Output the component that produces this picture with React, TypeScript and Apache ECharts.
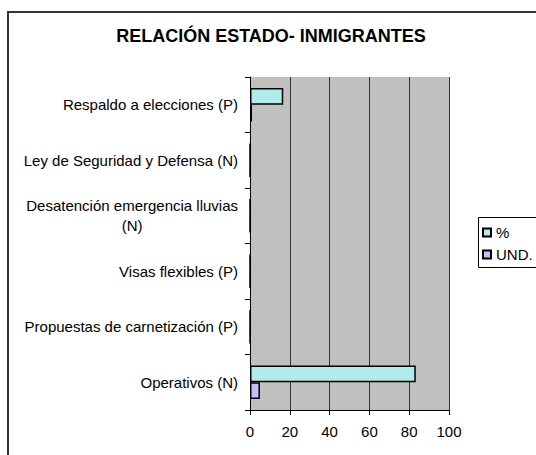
import React, { useEffect, useRef } from 'react';
import * as echarts from 'echarts';

const categories = [
  'Respaldo a elecciones (P)',
  'Ley de Seguridad y Defensa (N)',
  'Desatención emergencia lluvias\n(N)',
  'Visas flexibles (P)',
  'Propuestas de carnetización (P)',
  'Operativos (N)',
];
const percentValues = [16.7, 0, 0, 0, 0, 83.3];
const undValues = [1, 0, 0, 0, 0, 5];
const seriesNames = ['%', 'UND.'];
const titleText = 'RELACIÓN ESTADO- INMIGRANTES';

const FONT = "'Liberation Sans', Arial, sans-serif";

export default function App() {
  const ref = useRef<HTMLDivElement>(null);
  useEffect(() => {
    if (!ref.current) return;
    const chart = echarts.init(ref.current, undefined, { renderer: 'svg' });
    chart.setOption({
      animation: false,
      backgroundColor: '#ffffff',
      textStyle: { fontFamily: FONT, color: '#000' },
      title: {
        text: titleText,
        left: 271,
        top: 27,
        padding: 0,
        textAlign: 'center',
        textStyle: { fontFamily: FONT, fontSize: 18, fontWeight: 'bold', color: '#000' },
      },
      graphic: [
        {
          type: 'rect',
          z: -10,
          shape: { x: 8, y: 12, width: 600, height: 500 },
          style: { fill: 'none', stroke: '#333', lineWidth: 2 },
        },
        {
          type: 'rect',
          z: 0,
          shape: { x: 478.5, y: 217.5, width: 100, height: 50 },
          style: { fill: '#fff', stroke: '#000', lineWidth: 1 },
        },
      ],
      legend: {
        data: seriesNames,
        orient: 'vertical',
        left: 482,
        top: 225,
        padding: 0,
        itemWidth: 8,
        itemHeight: 8,
        itemGap: 7,
        icon: 'rect',
        z: 10,
        textStyle: { fontFamily: FONT, fontSize: 15, lineHeight: 15, color: '#000' },
      },
      grid: {
        left: 250,
        right: 87,
        top: 77,
        bottom: 45,
        show: true,
        backgroundColor: '#c0c0c0',
        borderWidth: 0,
      },
      xAxis: {
        type: 'value',
        min: 0,
        max: 100,
        interval: 20,
        axisLine: { show: true, lineStyle: { color: '#000', width: 1 } },
        axisTick: { show: true, length: 5, lineStyle: { color: '#000' } },
        axisLabel: { fontFamily: FONT, fontSize: 15, color: '#000', margin: 14 },
        splitLine: { show: true, lineStyle: { color: '#333', width: 1 } },
      },
      yAxis: {
        type: 'category',
        inverse: true,
        data: categories,
        axisLine: { show: true, lineStyle: { color: '#000', width: 1 } },
        axisTick: { show: true, length: 5, lineStyle: { color: '#000' } },
        axisLabel: {
          margin: 12,
          formatter: (v: string) =>
            v
              .split('\n')
              .map((s) => `{c|${s}}`)
              .join('\n'),
          rich: {
            c: { fontFamily: FONT, fontSize: 15, lineHeight: 20, color: '#000', align: 'center' },
          },
        },
        splitLine: { show: false },
      },
      series: [
        {
          name: seriesNames[0],
          type: 'bar',
          data: percentValues,
          barCategoryGap: '40%',
          barGap: '0%',
          itemStyle: { color: '#b2ebeb', borderColor: '#000', borderWidth: 1.5 },
        },
        {
          name: seriesNames[1],
          type: 'bar',
          data: undValues,
          barCategoryGap: '40%',
          barGap: '0%',
          itemStyle: { color: '#c0c0ff', borderColor: '#000', borderWidth: 1.5 },
        },
      ],
    });
    return () => chart.dispose();
  }, []);
  return (
    <div
      ref={ref}
      style={{ position: 'fixed', left: 0, top: 0, width: 536, height: 455 }}
    />
  );
}
